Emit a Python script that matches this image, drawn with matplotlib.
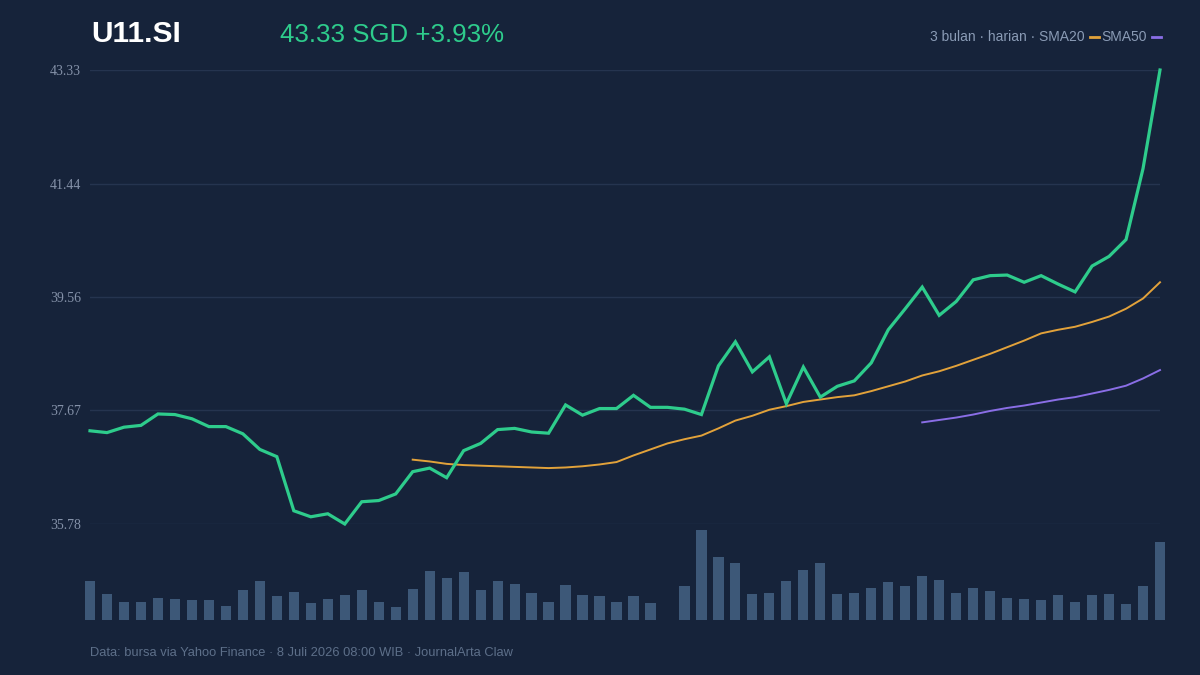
import matplotlib
matplotlib.use("Agg")
from matplotlib import pyplot as plt
from matplotlib.lines import Line2D
import numpy as np

# harga penutupan harian U11.SI (64 hari bursa)
price = [37.33, 37.30, 37.39, 37.42, 37.61, 37.60, 37.53, 37.40, 37.40, 37.28,
         37.02, 36.90, 36.00, 35.90, 35.95, 35.78, 36.15, 36.17, 36.28, 36.65,
         36.71, 36.55, 37.00, 37.12, 37.35, 37.37, 37.31, 37.29, 37.76, 37.59,
         37.70, 37.70, 37.92, 37.72, 37.72, 37.69, 37.60, 38.41, 38.81, 38.31,
         38.56, 37.78, 38.39, 37.89, 38.07, 38.16, 38.46, 39.01, 39.36, 39.72,
         39.25, 39.48, 39.84, 39.91, 39.92, 39.80, 39.91, 39.77, 39.64, 40.07,
         40.23, 40.51, 41.69, 43.33]

# SMA20 mulai hari ke-20, SMA50 mulai hari ke-50
sma20_start = 19
sma20 = [36.85, 36.82, 36.78, 36.76, 36.75, 36.74, 36.73, 36.72, 36.71, 36.72,
         36.74, 36.77, 36.81, 36.92, 37.02, 37.12, 37.19, 37.25, 37.37, 37.50,
         37.58, 37.68, 37.74, 37.81, 37.85, 37.89, 37.92, 37.99, 38.07, 38.15,
         38.25, 38.32, 38.41, 38.51, 38.61, 38.72, 38.83, 38.95, 39.01, 39.06,
         39.14, 39.23, 39.36, 39.53, 39.80]
sma50_start = 49
sma50 = [37.47, 37.51, 37.55, 37.60, 37.66, 37.71, 37.75, 37.80, 37.85, 37.89,
         37.95, 38.01, 38.08, 38.20, 38.34]

# volume (juta lembar)
volume = [3.9, 2.6, 1.8, 1.8, 2.2, 2.1, 2.0, 2.0, 1.4, 3.0,
          3.9, 2.4, 2.8, 1.7, 2.1, 2.5, 3.0, 1.8, 1.3, 3.1,
          4.8, 4.2, 4.7, 3.0, 3.9, 3.6, 2.7, 1.8, 3.5, 2.5,
          2.4, 1.8, 2.4, 1.7, 0.0, 3.4, 8.9, 6.2, 5.6, 2.6,
          2.7, 3.9, 4.9, 5.6, 2.6, 2.7, 3.2, 3.8, 3.4, 4.4,
          4.0, 2.7, 3.2, 2.9, 2.2, 2.1, 2.0, 2.5, 1.8, 2.5,
          2.6, 1.6, 3.4, 7.7]

yticks = [35.78, 37.67, 39.56, 41.44, 43.33]

bg = "#16233a"
grid_c = "#25344f"
green = "#2ecc8c"
orange = "#e2a23a"
purple = "#8a6ee6"
bar_c = "#3d5878"

x = np.arange(len(price))

fig = plt.figure(figsize=(12, 6.75), dpi=100)
fig.patch.set_facecolor(bg)

# panel harga
ax = fig.add_axes([90/1200, 151/675, 1070/1200, 454/675])
ax.set_facecolor(bg)
ax.set_xlim(0, len(price) - 1)
ax.set_ylim(yticks[0], yticks[-1])
ax.set_yticks(yticks)
ax.set_yticklabels(["%.2f" % t for t in yticks], family="Liberation Serif",
                   fontsize=10, color="#8491a8")
ax.tick_params(axis="y", length=0, pad=6.3)
ax.set_xticks([])
ax.grid(axis="y", color=grid_c, linewidth=1)
for s in ax.spines.values():
    s.set_visible(False)

ax.plot(x[sma20_start:], sma20, color=orange, linewidth=1.4, clip_on=False, zorder=3)
ax.plot(x[sma50_start:], sma50, color=purple, linewidth=1.4, clip_on=False, zorder=3)
ax.plot(x, price, color=green, linewidth=2.3, clip_on=False, zorder=4,
        solid_joinstyle="miter")

# panel volume
axv = fig.add_axes([90/1200, 55/675, 1070/1200, 90/675])
axv.set_facecolor("none")
axv.bar(x, volume, width=0.6, color=bar_c, clip_on=False)
axv.set_xlim(0, len(price) - 1)
axv.set_ylim(0, max(volume))
axv.axis("off")

# judul
fig.text(91/1200, 1 - 42/675, "U11.SI", family="Liberation Sans", fontweight="bold",
         fontsize=21.5, color="white", ha="left", va="baseline")
fig.text(280/1200, 1 - 42/675, "%.2f SGD +3.93%%" % price[-1], family="Liberation Sans",
         fontsize=18.6, color=green, ha="left", va="baseline")

# keterangan kanan atas
fig.text(1085/1200, 1 - 41/675, "3 bulan · harian · SMA20", family="Liberation Sans",
         fontsize=10, color="#8a9bb5", ha="right", va="baseline")
fig.text(1147/1200, 1 - 41/675, "SMA50", family="Liberation Sans",
         fontsize=10, color="#8a9bb5", ha="right", va="baseline")
fig.add_artist(Line2D([1090/1200, 1099/1200], [1 - 37/675, 1 - 37/675],
                      color=orange, linewidth=2, transform=fig.transFigure))
fig.add_artist(Line2D([1152/1200, 1161/1200], [1 - 37/675, 1 - 37/675],
                      color=purple, linewidth=2, transform=fig.transFigure))

# sumber
fig.text(90/1200, 1 - 656/675,
         "Data: bursa via Yahoo Finance · 8 Juli 2026 08:00 WIB · JournalArta Claw",
         family="Liberation Sans", fontsize=9.25, color="#5d6f89", ha="left", va="baseline")

plt.savefig("out.png", dpi=100, facecolor=bg)
